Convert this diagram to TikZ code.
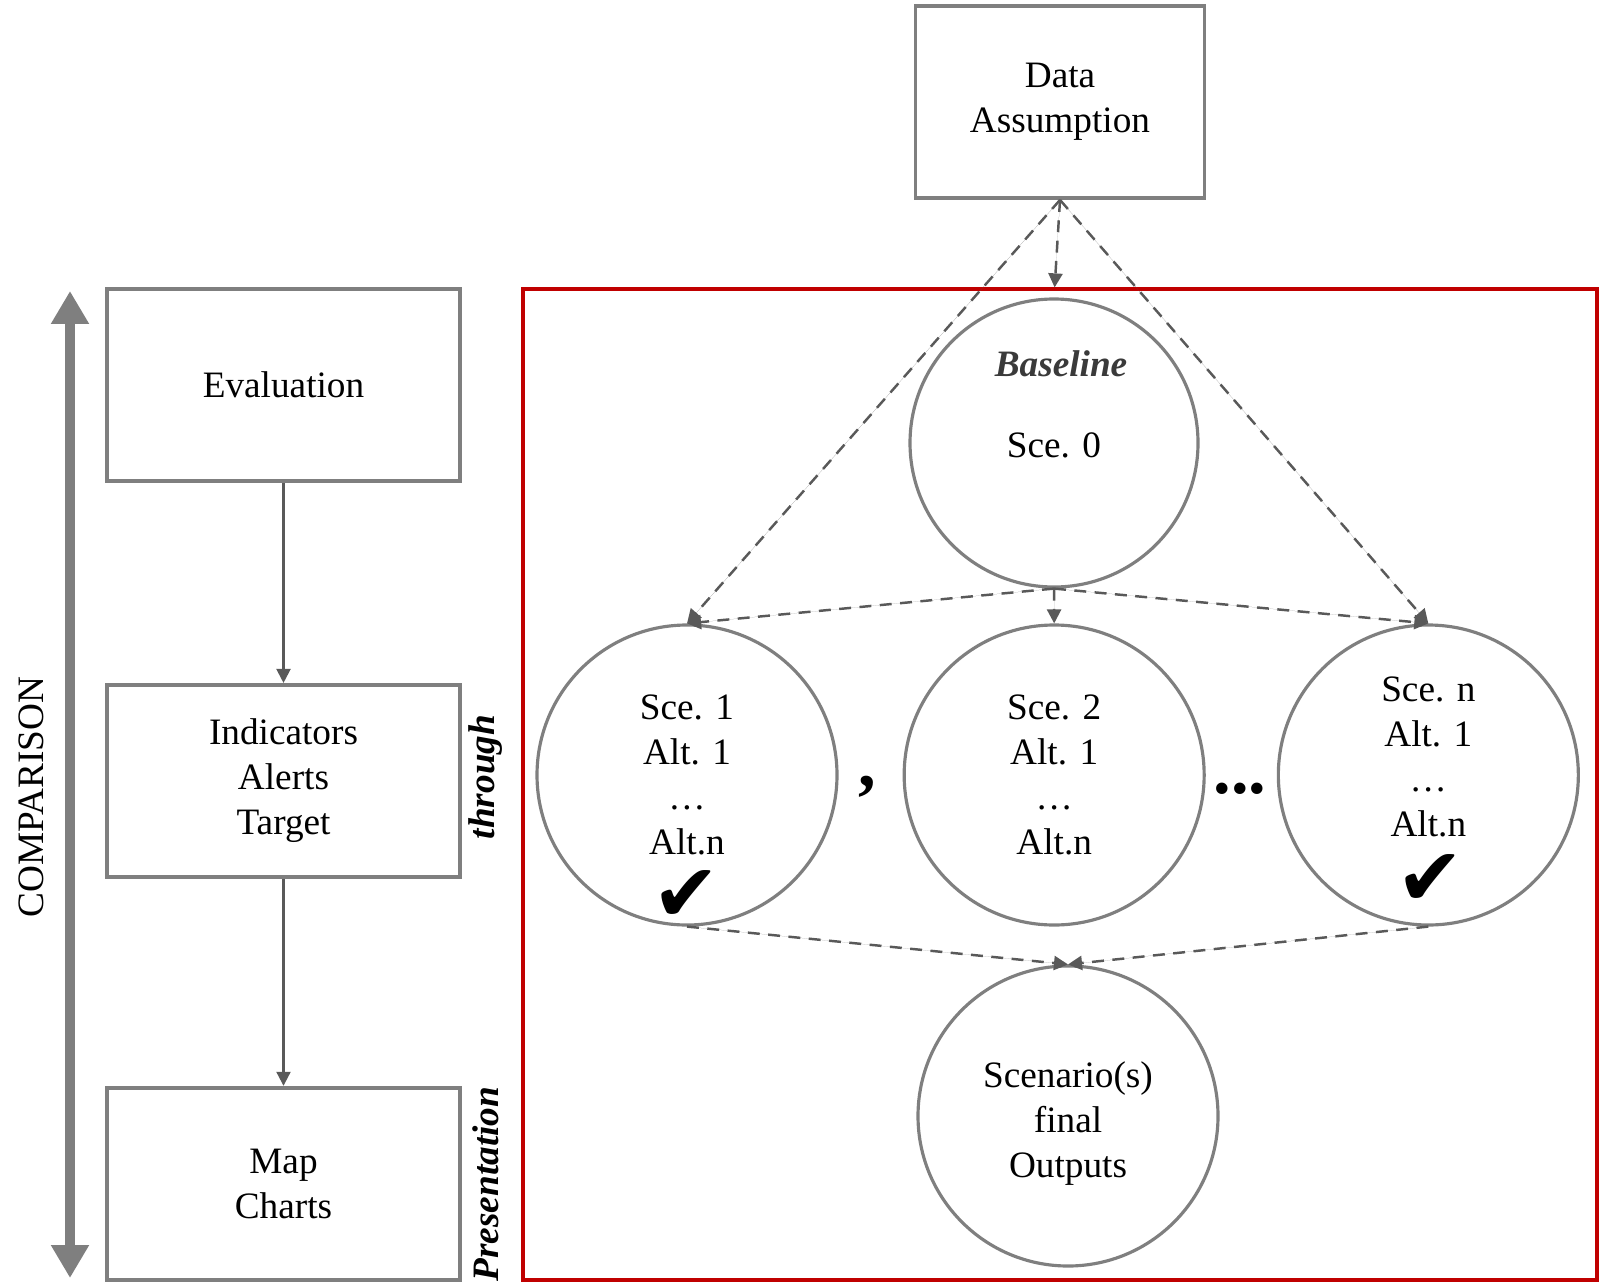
\documentclass[tikz,border=0pt]{standalone}
\usepackage{fontspec}
\setmainfont{Liberation Serif}
\newfontfamily\symfont{DejaVu Sans}
\usepackage{xcolor}
\definecolor{cFrame}{HTML}{7F7F7F}
\definecolor{cLink}{HTML}{595959}
\definecolor{cRed}{HTML}{C00000}
\definecolor{cBase}{HTML}{3A3A3A}
\usepackage{tikz}
\usetikzlibrary{positioning,arrows.meta}
\newcommand{\mainfnt}{\fontsize{10.6}{12.8}\selectfont}
\tikzset{
  node-box/.style={draw=cFrame,line width=1.1pt,minimum width=3.53cm,
    minimum height=1.92cm,align=center,font=\mainfnt,inner sep=0pt},
  node-scen/.style={draw=cFrame,line width=0.9pt,circle,minimum size=3cm,
    align=center,font=\mainfnt,inner sep=0pt},
  node-txt/.style={align=center,font=\mainfnt,inner sep=0pt},
  node-side/.style={rotate=90,inner sep=0pt,font=\mainfnt\bfseries\itshape},
  node-tick/.style={inner sep=0pt,font=\symfont\fontsize{23}{23}\selectfont},
  node-sep/.style={inner sep=0pt,font=\fontsize{20}{20}\selectfont\bfseries},
  frame-red/.style={draw=cRed,line width=1.4pt,inner sep=0pt},
  arrow/.style={-{Triangle[length=4pt,width=4pt]},line width=0.6pt,draw=cLink,fill=cLink},
  arrow-dash/.style={arrow,line width=0.7pt,dash pattern=on 3.4pt off 2.4pt},
  arrow-big/.style={{Triangle[length=3.3mm,width=3.6mm]}-{Triangle[length=3.3mm,width=3.6mm]},
    line width=1mm,draw=cFrame,fill=cFrame},
}

\begin{document}
\begin{tikzpicture}
  \useasboundingbox (0,0) rectangle (16.03,-12.82);
  % left column
  \node[node-box] (eval) at (2.835,-3.85) {Evaluation};
  \node[node-box,below=2.00cm of eval] (ind) {Indicators\\Alerts\\Target};
  \node[node-box,below=2.07cm of ind] (map) {Map\\Charts};
  \draw[arrow] (eval) -- (ind);
  \draw[arrow] (ind) -- (map);
  \coordinate (cmp-top) at (0.70,-2.91);
  \coordinate (cmp-bot) at (0.70,-12.78);
  \draw[arrow-big] (cmp-top) -- (cmp-bot);
  \node[rotate=90,inner sep=0pt,font=\mainfnt] (cmp) at (0.31,-7.97) {COMPARISON};
  \node[node-side] (thr) at (4.86,-7.77) {through};
  \node[node-side] (pres) at (4.86,-11.84) {Presentation};
  % scenarios
  \node[frame-red,minimum width=10.74cm,minimum height=9.91cm] (frame) at (10.60,-7.845) {};
  \node[node-box,minimum width=2.89cm] (data) at (10.60,-1.02) {Data\\Assumption};
  \node[node-scen,minimum size=2.88cm] (base) at (10.54,-4.43) {};
  \node[node-txt,font=\mainfnt\bfseries\itshape,text=cBase] (base-t) at (10.61,-3.64) {Baseline};
  \node[node-txt] (base-s) at (10.54,-4.45) {Sce. 0};
  \node[node-scen] (s1) at (6.87,-7.75) {Sce. 1\\Alt. 1\\\ldots\\Alt.n};
  \node[node-scen,right=0.64cm of s1] (s2) {Sce. 2\\Alt. 1\\\ldots\\Alt.n};
  \node[node-scen,right=0.71cm of s2] (sn) {};
  \node[node-txt] (sn-t) at ([yshift=0.18cm]sn.center) {Sce. n\\Alt. 1\\\ldots\\Alt.n};
  \node[node-tick] (tick1) at (6.86,-8.96) {✔};
  \node[node-tick] (tickn) at (14.30,-8.80) {✔};
  \node[node-sep] (comma) at (8.67,-7.87) {,};
  \node[node-sep] (dots) at (12.40,-7.89) {...};
  \node[node-scen] (fin) at (10.68,-11.16) {};
  \node[node-txt] (fin-t) at ([yshift=-0.08cm]fin.center) {Scenario(s)\\final\\Outputs};
  \draw[arrow-dash,shorten >=0.1cm] (data.south) -- (base.north);
  \draw[arrow-dash] (data.south) -- (s1.north);
  \draw[arrow-dash] (data.south) -- (sn.north);
  \draw[arrow-dash] (base.south) -- (s1.north);
  \draw[arrow-dash] (base.south) -- (s2.north);
  \draw[arrow-dash] (base.south) -- (sn.north);
  \draw[arrow-dash] (s1.south) -- (fin.north);
  \draw[arrow-dash] (sn.south) -- (fin.north);
\end{tikzpicture}
\end{document}
